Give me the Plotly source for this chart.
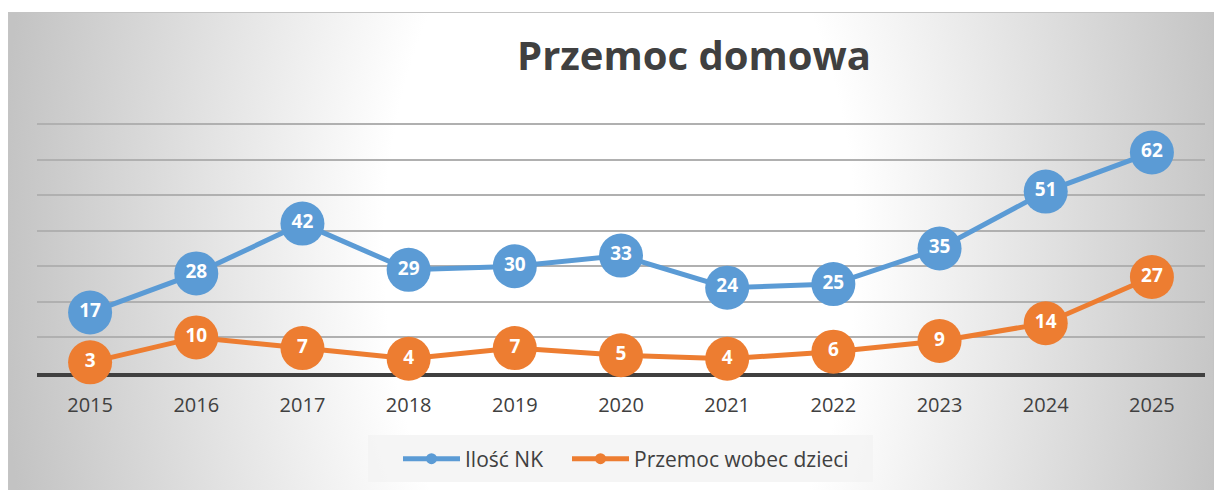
import base64
import plotly.graph_objects as go

years = ["2015", "2016", "2017", "2018", "2019", "2020", "2021", "2022", "2023", "2024", "2025"]
ilosc_nk = [17, 28, 42, 29, 30, 33, 24, 25, 35, 51, 62]
przemoc_dzieci = [3, 10, 7, 4, 7, 5, 4, 6, 9, 14, 27]

series = [
    ("Ilość NK", ilosc_nk, "#5b9bd5", "legend"),
    ("Przemoc wobec dzieci", przemoc_dzieci, "#ed7d31", "legend2"),
]

W, H = 1223, 490
FONT = "Open Sans"

# radial gradient background (Excel-like chart area)
svg = f'''<svg xmlns="http://www.w3.org/2000/svg" width="{W}" height="{H}" viewBox="0 0 {W} {H}">
<defs>
<radialGradient id="g" gradientUnits="userSpaceOnUse" cx="620" cy="250" r="620"
 gradientTransform="translate(620,250) scale(1,1.7) translate(-620,-250)">
<stop offset="0" stop-color="#ffffff"/>
<stop offset="0.38" stop-color="#ffffff"/>
<stop offset="1" stop-color="#c3c3c3"/>
</radialGradient>
</defs>
<rect x="8.5" y="12.5" width="1205" height="490" fill="url(#g)" stroke="#c4c4c4" stroke-width="1"/>
</svg>'''
src = "data:image/svg+xml;base64," + base64.b64encode(svg.encode()).decode()

fig = go.Figure()
for name, vals, color, lg in series:
    fig.add_trace(go.Scatter(
        x=years, y=vals, name=name, mode="lines+markers+text",
        line=dict(color=color, width=5),
        marker=dict(color=color, size=44, line=dict(width=0)),
        text=[str(v) for v in vals], textposition="middle center",
        textfont=dict(family=FONT, size=19, color="white", weight="bold"),
        cliponaxis=False, showlegend=False, hoverinfo="skip",
    ))
for name, vals, color, lg in series:
    fig.add_trace(go.Scatter(
        x=[None], y=[None], name=name, mode="lines+markers",
        line=dict(color=color, width=5),
        marker=dict(color=color, size=11),
        showlegend=True, legend=lg,
    ))

PX = 249 / 70  # pixels per unit
top_val = 71
legend_common = dict(orientation="h", xanchor="left", y=1 - 459 / H, yanchor="middle",
                     bgcolor="rgba(0,0,0,0)", itemwidth=57,
                     font=dict(family=FONT, size=21, color="#404040"))
fig.update_layout(
    width=W, height=H,
    margin=dict(l=0, r=0, t=0, b=0),
    paper_bgcolor="white", plot_bgcolor="rgba(0,0,0,0)",
    images=[dict(source=src, xref="paper", yref="paper", x=0, y=1,
                 sizex=1, sizey=1, xanchor="left", yanchor="top",
                 sizing="stretch", layer="below")],
    shapes=[dict(type="rect", xref="paper", yref="paper",
                 x0=368 / W, x1=873 / W, y0=1 - 482 / H, y1=1 - 435 / H,
                 fillcolor="rgba(243,243,243,0.85)", line=dict(width=0), layer="below")],
    title=dict(text="Przemoc domowa", x=694 / W, xanchor="center",
               y=1 - 56 / H, yanchor="middle", xref="paper", yref="paper",
               font=dict(family=FONT, size=40, color="#404040", weight="bold")),
    xaxis=dict(domain=[37 / W, 1205 / W], range=[-0.5, 10.5], type="category",
               showgrid=False, showline=True, linecolor="#404040", linewidth=4,
               ticks="", ticklabelstandoff=11, layer="below traces",
               tickfont=dict(family=FONT, size=20, color="#404040")),
    yaxis=dict(domain=[1 - 373 / H, 1 - (373 - top_val * PX) / H], range=[0, top_val],
               tickvals=[10, 20, 30, 40, 50, 60, 70],
               showgrid=True, gridcolor="#b0b0b0", gridwidth=1.5,
               zeroline=False, showticklabels=False, ticks="", layer="below traces"),
    legend=dict(x=398 / W, **legend_common),
    legend2=dict(x=567 / W, **legend_common),
    hovermode=False,
)

fig.write_html("out.html", config={"displayModeBar": False},
               post_script="document.body.style.margin='0';document.body.style.overflow='hidden';")
